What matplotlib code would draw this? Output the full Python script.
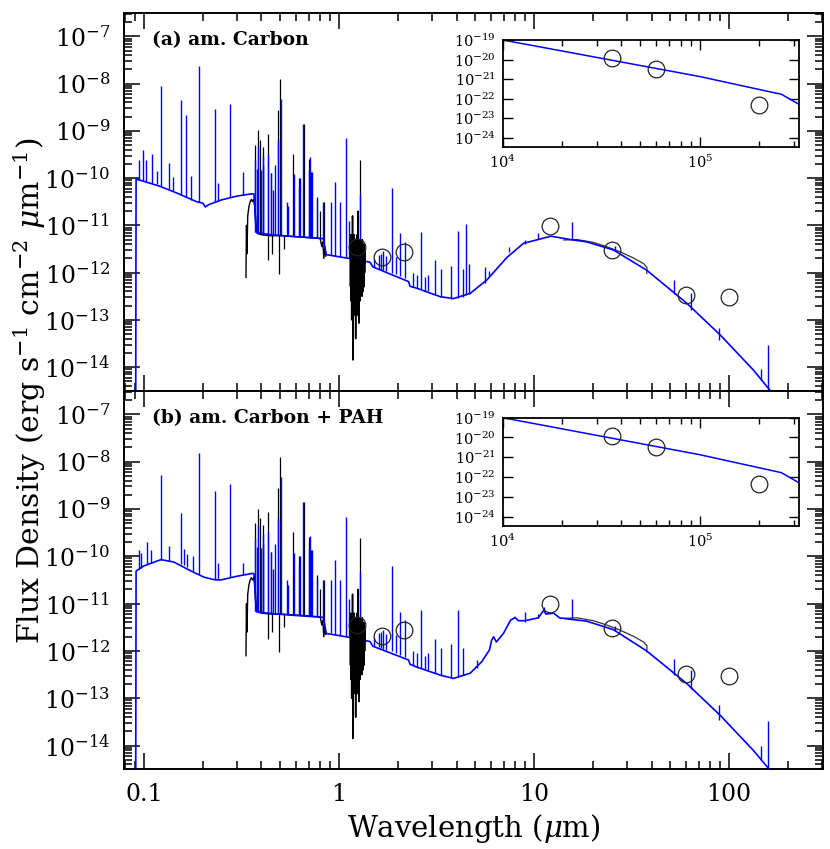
import matplotlib
matplotlib.use("Agg")
import matplotlib.pyplot as plt
import numpy as np
from matplotlib.ticker import LogLocator, NullFormatter, FixedLocator

plt.rcParams['font.family'] = 'DejaVu Serif'
plt.rcParams['mathtext.fontset'] = 'dejavuserif'

# all fluxes are log10(erg s-1 cm-2 um-1), wavelengths in um

# model continuum, panel (a) am. Carbon
top_cont_wl = [0.0905, 0.091, 0.10, 0.12, 0.15, 0.186, 0.200, 0.206, 0.215, 0.25,
               0.30, 0.36, 0.366, 0.376, 0.45, 0.60, 0.83, 0.86, 1.20, 1.44,
               1.49, 2.27, 2.31, 2.50, 3.30, 3.86, 4.70, 5.71, 7.25, 8.82,
               12.2, 15.3, 18.6, 25.5, 37.8, 60.7, 90.0, 133.0, 159.0, 200.0]
top_cont_lf = [-16.0, -10.02, -10.07, -10.17, -10.33, -10.50, -10.53, -10.61, -10.56, -10.46,
               -10.38, -10.33, -10.34, -11.15, -11.20, -11.24, -11.28, -11.62, -11.72, -11.78,
               -11.88, -12.19, -12.29, -12.33, -12.51, -12.55, -12.44, -12.16, -11.68, -11.38,
               -11.23, -11.30, -11.35, -11.52, -11.95, -12.65, -13.32, -14.06, -14.45, -14.95]

# model continuum, panel (b) am. Carbon + PAH
bot_cont_wl = [0.0905, 0.091, 0.10, 0.122, 0.142, 0.174, 0.203, 0.227, 0.247, 0.30,
               0.36, 0.366, 0.376, 0.45, 0.60, 0.83, 0.86, 1.20, 1.44, 1.49,
               2.27, 2.31, 2.50, 3.30, 3.86, 4.70, 5.38, 5.90, 6.06, 6.20,
               6.40, 6.96, 7.57, 8.00, 8.30, 9.00, 10.5, 11.2, 11.5, 12.6,
               13.5, 15.3, 18.6, 25.5, 37.8, 60.7, 90.0, 133.0, 159.0, 200.0]
bot_cont_lf = [-16.0, -10.31, -10.20, -10.07, -10.12, -10.31, -10.44, -10.49, -10.50, -10.42,
               -10.36, -10.37, -11.17, -11.21, -11.25, -11.29, -11.63, -11.73, -11.80, -11.90,
               -12.19, -12.28, -12.34, -12.51, -12.58, -12.47, -12.23, -11.98, -11.77, -11.70,
               -11.81, -11.63, -11.35, -11.29, -11.36, -11.36, -11.30, -11.14, -11.22, -11.20,
               -11.30, -11.33, -11.37, -11.55, -12.00, -12.69, -13.36, -14.10, -14.48, -14.98]

# model emission lines (wavelength, base, peak)
uv_top_wl = [0.0946, 0.0985, 0.1024, 0.1095, 0.1160, 0.1216, 0.134, 0.140,
             0.155, 0.164, 0.175, 0.191, 0.231, 0.240, 0.277, 0.321]
uv_top_base = [-10.05, -10.06, -10.07, -10.10, -10.13, -10.17, -10.24, -10.27,
               -10.36, -10.41, -10.46, -10.51, -10.50, -10.48, -10.40, -10.36]
uv_top_peak = [-9.62, -9.40, -9.61, -9.48, -9.85, -8.06, -9.68, -9.98,
               -8.34, -8.67, -9.95, -7.62, -8.53, -10.10, -8.44, -9.87]

uv_bot_wl = [0.094, 0.0965, 0.103, 0.108, 0.1216, 0.134, 0.154, 0.160,
             0.166, 0.178, 0.191, 0.231, 0.240, 0.277, 0.321]
uv_bot_base = [-10.27, -10.25, -10.19, -10.15, -10.07, -10.10, -10.16, -10.19,
               -10.22, -10.30, -10.37, -10.49, -10.50, -10.44, -10.38]
uv_bot_peak = [-9.87, -9.92, -9.69, -9.86, -8.28, -9.78, -9.08, -9.85,
               -9.95, -10.00, -7.81, -8.62, -10.15, -8.47, -10.14]

opt_wl = [0.371, 0.378, 0.386, 0.396, 0.409, 0.434, 0.447, 0.456, 0.486, 0.502,
          0.55, 0.588, 0.63, 0.656, 0.71, 0.73, 0.77, 0.83, 0.91, 0.954,
          1.01, 1.085, 1.13, 1.28, 1.51, 1.60, 1.64, 1.68, 1.74, 1.87,
          1.95, 2.06, 2.17, 2.40, 2.50, 2.62, 2.75, 2.85, 3.10, 3.35,
          3.73, 4.05, 4.30, 0.406, 0.469, 0.538, 0.62, 0.70]
opt_base = [-11.15, -11.16, -11.17, -11.17, -11.18, -11.19, -11.20, -11.20, -11.21, -11.21,
            -11.22, -11.23, -11.24, -11.24, -11.26, -11.26, -11.27, -11.30, -11.63, -11.64,
            -11.66, -11.68, -11.69, -11.74, -11.89, -11.92, -11.94, -11.95, -11.97, -12.01,
            -12.04, -12.08, -12.12, -12.31, -12.33, -12.35, -12.38, -12.40, -12.46, -12.52,
            -12.55, -12.54, -12.51, -11.18, -11.20, -11.22, -11.23, -11.25]
opt_peak = [-9.62, -9.80, -9.33, -9.83, -9.52, -9.49, -9.90, -10.26, -9.20, -8.33,
            -10.60, -9.92, -10.00, -8.86, -9.56, -9.87, -10.45, -10.50, -10.50, -10.08,
            -10.50, -9.16, -10.90, -10.33, -11.72, -11.63, -11.60, -11.55, -11.65, -10.20,
            -11.67, -11.17, -11.35, -12.00, -12.05, -11.14, -12.10, -12.05, -11.74, -11.93,
            -11.86, -11.13, -11.93, -9.73, -9.73, -10.50, -10.20, -9.83]

ir_top_wl = [4.48, 4.65, 5.6, 5.9, 7.47, 9.0, 10.5, 15.6, 26.0, 52.2, 63.6, 88.9, 145.6, 159.0]
ir_top_base = [-12.47, -12.45, -12.22, -12.10, -11.57, -11.40, -11.29, -11.31, -11.54,
               -12.45, -12.79, -13.43, -14.27, -14.60]
ir_top_peak = [-10.97, -11.81, -11.89, -11.96, -11.45, -11.30, -11.17, -10.93, -11.44,
               -12.16, -12.44, -13.18, -14.05, -13.53]

ir_bot_wl = [5.1, 9.0, 10.5, 11.2, 15.6, 26.0, 52.2, 63.6, 88.9, 145.6, 159.0]
ir_bot_base = [-12.35, -11.38, -11.31, -11.16, -11.33, -11.56, -12.50, -12.80, -13.45, -14.30, -14.70]
ir_bot_peak = [-12.19, -11.17, -11.22, -11.08, -10.91, -11.48, -12.16, -12.40, -13.14, -14.00, -13.49]

# observed spectra (black)
obs_opt_wl = [0.333, 0.335, 0.337, 0.340, 0.345, 0.350, 0.355, 0.360, 0.365, 0.370,
              0.374, 0.378, 0.385, 0.40, 0.42, 0.45, 0.50, 0.55, 0.60, 0.65,
              0.70, 0.75, 0.80, 0.815, 0.825, 0.835, 0.845, 0.855]
obs_opt_lf = [-12.10, -11.00, -11.60, -10.80, -10.60, -10.50, -10.45, -10.50, -10.45, -10.60,
              -10.90, -11.15, -11.18, -11.20, -11.21, -11.22, -11.22, -11.23, -11.24, -11.25,
              -11.26, -11.27, -11.28, -11.45, -11.35, -11.70, -11.50, -11.65]

obs_line_wl = [0.372, 0.386, 0.409, 0.434, 0.445, 0.488, 0.498, 0.583, 0.66, 0.72, 0.77, 0.80, 1.28,
               0.395, 0.62, 0.705, 0.84,
               0.433, 0.455, 0.494, 0.52]
obs_line_base = [-10.90, -11.15, -11.18, -11.19, -11.20, -11.21, -11.21, -11.23, -11.24, -11.26,
                 -11.27, -11.28, -11.70, -11.17, -11.23, -11.25, -11.60,
                 -11.19, -11.20, -11.21, -11.22]
obs_line_peak = [-9.30, -8.99, -9.34, -9.06, -9.90, -8.56, -7.91, -9.48, -8.85, -9.87,
                 -10.40, -10.70, -9.61, -9.20, -10.00, -9.60, -10.50,
                 -11.74, -11.60, -12.02, -11.50]

obs_nir_wl = [1.140, 1.144, 1.148, 1.152, 1.156, 1.160, 1.164, 1.168, 1.172, 1.176,
              1.180, 1.184, 1.188, 1.192, 1.196, 1.200, 1.204, 1.208, 1.212, 1.216,
              1.220, 1.224, 1.228, 1.232, 1.236, 1.240, 1.244, 1.248, 1.252, 1.256,
              1.260, 1.264, 1.268, 1.272, 1.276, 1.280, 1.284, 1.288, 1.292, 1.296,
              1.300, 1.304, 1.308, 1.312, 1.316, 1.320, 1.324, 1.328, 1.332, 1.336,
              1.340, 1.344, 1.348, 1.352, 1.356, 1.360]
obs_nir_lf = [-11.30, -12.30, -11.20, -12.60, -11.40, -13.00, -11.30, -12.20, -10.80, -13.85,
              -11.30, -12.40, -11.40, -12.90, -11.20, -12.50, -11.50, -12.10, -11.30, -13.40,
              -11.30, -12.20, -11.40, -12.70, -11.20, -12.90, -11.50, -12.30, -10.70, -12.40,
              -11.30, -13.07, -11.50, -12.30, -11.40, -12.60, -11.30, -12.50, -11.40, -12.30,
              -11.60, -12.00, -11.50, -12.50, -11.30, -12.20, -11.40, -12.40, -11.50, -12.10,
              -11.40, -12.30, -11.60, -12.00, -11.50, -11.80]

obs_irs_wl = [14.2, 16.6, 20.1, 23.5, 27.6, 32.3, 36.4, 37.9, 37.8]
obs_irs_lf = [-11.31, -11.30, -11.36, -11.45, -11.56, -11.69, -11.81, -11.89, -12.02]

# photometry (circles)
phot_wl = [1.23, 1.66, 2.15, 12.0, 25.2, 60.1, 100.0]
phot_lf = [-11.45, -11.68, -11.56, -11.01, -11.52, -12.48, -12.52]

# radio inset
ins_wl = [1e4, 1e5, 2.6e5, 3.2e5]
ins_lf = [-19.0, -20.87, -21.78, -22.30]
ins_phot_wl = [3.6e4, 6.0e4, 2.0e5]
ins_phot_lf = [-19.94, -20.49, -22.33]


def p(v):
    return 10.0 ** np.array(v, dtype=float)


blue = '#0000ff'
fig = plt.figure(figsize=(8.3, 8.49), dpi=100)
ax1 = fig.add_axes([0.1494, 0.5398, 0.8422, 0.4452])
ax2 = fig.add_axes([0.1494, 0.0939, 0.8422, 0.4459])

panels = [
    (ax1, top_cont_wl, top_cont_lf, uv_top_wl, uv_top_base, uv_top_peak,
     ir_top_wl, ir_top_base, ir_top_peak, '(a) am. Carbon'),
    (ax2, bot_cont_wl, bot_cont_lf, uv_bot_wl, uv_bot_base, uv_bot_peak,
     ir_bot_wl, ir_bot_base, ir_bot_peak, '(b) am. Carbon + PAH'),
]

for ax, cw, cf, uw, ub, up, iw, ib, ip, lab in panels:
    ax.plot(obs_opt_wl, p(obs_opt_lf), color='k', lw=1.0, zorder=2)
    ax.plot(obs_irs_wl, p(obs_irs_lf), color='#333333', lw=0.9, zorder=2)
    ax.vlines(obs_line_wl, p(obs_line_base), p(obs_line_peak), color='k', lw=0.9, zorder=2)

    ax.plot(cw, p(cf), color=blue, lw=1.2, zorder=3)
    ax.vlines(uw, p(ub), p(up), color=blue, lw=1.0, zorder=3)
    ax.vlines(opt_wl, p(opt_base), p(opt_peak), color=blue, lw=1.0, zorder=3)
    ax.vlines(iw, p(ib), p(ip), color=blue, lw=1.0, zorder=3)

    ax.plot(obs_nir_wl, p(obs_nir_lf), color='k', lw=1.1, zorder=4)
    ax.plot(phot_wl, p(phot_lf), 'o', mfc='none', mec='#222222', mew=0.9, ms=12, zorder=5)

    ax.set_xscale('log')
    ax.set_yscale('log')
    ax.set_xlim(0.0789, 303)
    ax.set_ylim(10 ** -14.5, 10 ** -6.5)
    ax.set_yticks(p([-14, -13, -12, -11, -10, -9, -8, -7]))
    ax.yaxis.set_minor_locator(LogLocator(base=10, subs=np.arange(2, 10), numticks=100))
    ax.yaxis.set_minor_formatter(NullFormatter())
    ax.set_xticks([0.1, 1, 10, 100])
    ax.set_xticklabels(['0.1', '1', '10', '100'])
    ax.xaxis.set_minor_locator(LogLocator(base=10, subs=np.arange(2, 10), numticks=100))
    ax.xaxis.set_minor_formatter(NullFormatter())
    ax.tick_params(which='both', direction='in', top=True, right=True)
    ax.tick_params(which='major', length=11.5, width=1.1, labelsize=17, pad=10)
    ax.tick_params(which='minor', length=6, width=1.1)
    for s in ax.spines.values():
        s.set_linewidth(1.4)
    ax.text(0.040, 0.928, lab, transform=ax.transAxes, fontsize=13.5,
            fontweight='bold', va='center', ha='left')

ax1.tick_params(labelbottom=False)

for rect in ([0.6057, 0.8272, 0.3573, 0.1257], [0.6057, 0.3808, 0.3573, 0.1272]):
    ins = fig.add_axes(rect)
    ins.set_facecolor('white')
    ins.plot(ins_wl, p(ins_lf), color=blue, lw=1.1)
    ins.plot(ins_phot_wl, p(ins_phot_lf), 'o', mfc='none', mec='#222222', mew=0.9, ms=12)
    ins.set_xscale('log')
    ins.set_yscale('log')
    ins.set_xlim(1e4, 3.2e5)
    ins.set_ylim(10 ** -24.46, 1e-19)
    ins.set_yticks(p([-24, -23, -22, -21, -20, -19]))
    ins.yaxis.set_minor_locator(FixedLocator([]))
    ins.set_xticks([1e4, 1e5])
    ins.xaxis.set_minor_locator(LogLocator(base=10, subs=np.arange(2, 10), numticks=100))
    ins.xaxis.set_minor_formatter(NullFormatter())
    ins.tick_params(which='both', direction='in', top=True, right=True)
    ins.tick_params(which='major', length=7, width=1.0, labelsize=10.5, pad=5)
    ins.tick_params(which='minor', length=4, width=1.0)
    for s in ins.spines.values():
        s.set_linewidth(1.3)

fig.text(0.036, 1 - 390.7 / 849,
         r'Flux Density (erg s$^{-1}$ cm$^{-2}$ $\mu$m$^{-1}$)',
         rotation=90, va='center', ha='center', fontsize=21.5)
fig.text(0.5706, 0.024, r'Wavelength ($\mu$m)', va='center', ha='center', fontsize=21)

fig.savefig('out.png', dpi=100)
